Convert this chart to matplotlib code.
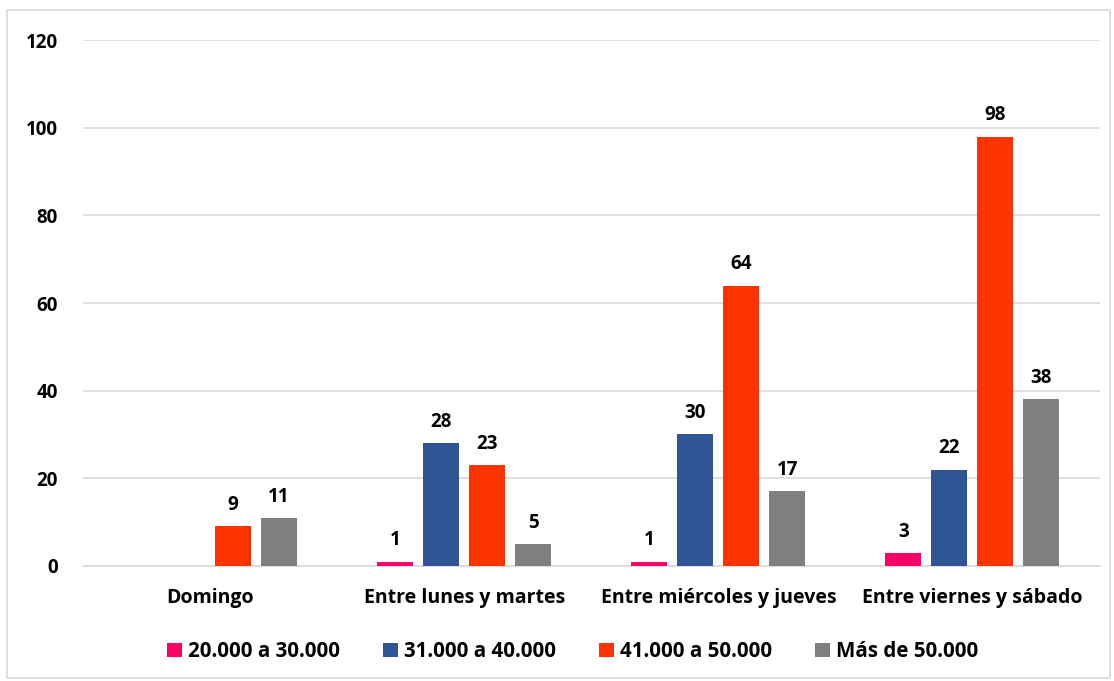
import numpy as np
import matplotlib
matplotlib.use("Agg")
import matplotlib.pyplot as plt
from matplotlib.patches import Rectangle

plt.rcParams['font.family'] = ['Open Sans', 'DejaVu Sans']
plt.rcParams['font.weight'] = 'bold'

categories = ["Domingo", "Entre lunes y martes", "Entre miércoles y jueves", "Entre viernes y sábado"]
series_names = ["20.000 a 30.000", "31.000 a 40.000", "41.000 a 50.000", "Más de 50.000"]
s1 = [np.nan, 1, 1, 3]
s2 = [np.nan, 28, 30, 22]
s3 = [9, 23, 64, 98]
s4 = [11, 5, 17, 38]
colors = ["#FF0066", "#2F5597", "#FF3300", "#7F7F7F"]

series = [s1, s2, s3, s4]

fig = plt.figure(figsize=(11.14, 6.81), dpi=100)
ax = fig.add_axes([0.0745, 0.169, 0.9125, 0.772])

x = np.arange(len(categories))
width = 0.142
pitch = 0.181
offsets = [-1.5, -0.5, 0.5, 1.5]

for vals, name, col, off in zip(series, series_names, colors, offsets):
    ax.bar(x + off * pitch, vals, width, color=col, label=name, zorder=3)
    for xi, v in zip(x + off * pitch, vals):
        if np.isnan(v):
            continue
        ax.annotate(f"{int(v)}", (xi, v), xytext=(0, 8), textcoords="offset points",
                    ha="center", va="bottom", fontsize=13.5, fontweight="bold")

ax.set_xlim(-0.5, 3.5)
ax.set_ylim(0, 120)
ax.set_yticks(range(0, 121, 20))
ax.set_xticks(x)
ax.set_xticklabels(categories, fontsize=14, fontweight="bold")
for lbl in ax.get_yticklabels():
    lbl.set_fontweight("bold")
    lbl.set_fontsize(13.5)
ax.tick_params(axis="y", length=0, pad=18)
ax.tick_params(axis="x", length=0, pad=16)
ax.grid(axis="y", color="#D9D9D9", linewidth=1.2, zorder=0)
for s in ["top", "right", "left"]:
    ax.spines[s].set_visible(False)
ax.spines["bottom"].set_color("#D9D9D9")
ax.spines["bottom"].set_linewidth(1.2)

fig.legend(loc="center", bbox_to_anchor=(0.514, 0.043), ncol=4, frameon=False,
           handlelength=0.72, handleheight=0.72, handletextpad=0.3,
           columnspacing=2.1, prop={"weight": "bold", "size": 14.8})

# outer chart border
fig.patches.append(Rectangle((7 / 1114, 3 / 681), 1103 / 1114, 668 / 681,
                             transform=fig.transFigure, fill=False,
                             edgecolor="#D9D9D9", linewidth=1.2))

fig.savefig("out.png", dpi=100)
